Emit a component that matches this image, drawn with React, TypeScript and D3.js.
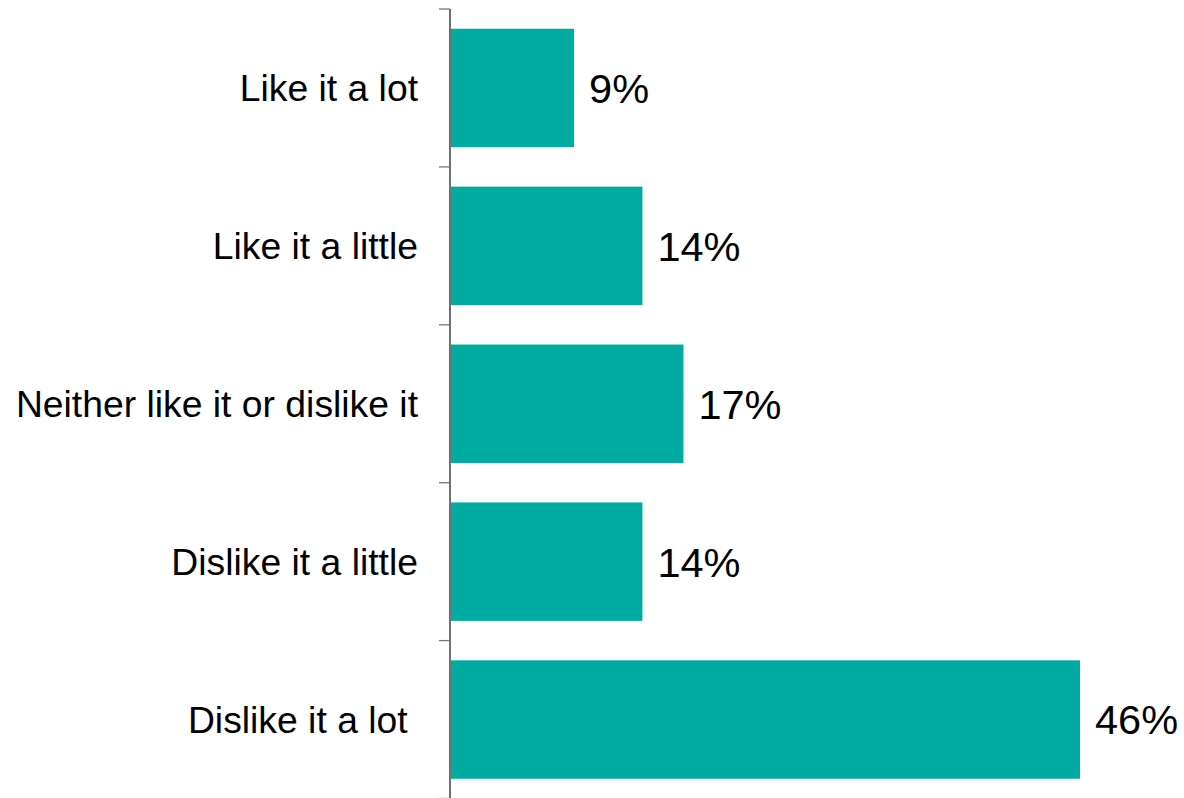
import React, { useEffect, useRef } from 'react';
import * as d3 from 'd3';

const categories = [
  'Like it a lot',
  'Like it a little',
  'Neither like it or dislike it',
  'Dislike it a little',
  'Dislike it a lot\u00a0',
];
const values = [9, 14, 17, 14, 46];
const valueLabels = ['9%', '14%', '17%', '14%', '46%'];

const BarChart = () => {
  const svgRef = useRef<SVGSVGElement>(null);

  useEffect(() => {
    const width = 1184;
    const height = 798;
    const axisX = 450;

    const svg = d3.select(svgRef.current).attr('width', width).attr('height', height);
    svg.selectAll('*').remove();

    const y = d3
      .scaleBand()
      .domain(categories)
      .range([9, 798.5])
      .paddingInner(0.25)
      .paddingOuter(0.125);

    const x = d3
      .scaleLinear()
      .domain([0, 46])
      .range([axisX + 1, 1080]);

    const data = categories.map((c, i) => ({ cat: c, value: values[i], label: valueLabels[i] }));

    // bars
    svg
      .selectAll('rect.bar')
      .data(data)
      .enter()
      .append('rect')
      .attr('class', 'bar')
      .attr('x', x(0))
      .attr('y', (d) => y(d.cat) as number)
      .attr('width', (d) => x(d.value) - x(0))
      .attr('height', y.bandwidth())
      .attr('fill', '#00ACA2');

    // axis line and boundary ticks
    const [y0, y1] = y.range();
    svg
      .append('line')
      .attr('x1', axisX)
      .attr('x2', axisX)
      .attr('y1', y0)
      .attr('y2', y1)
      .attr('stroke', '#222')
      .attr('stroke-width', 1.3);

    const bounds = categories.map((c) => (y(c) as number) - (y.step() * y.paddingInner()) / 2);
    bounds[0] = y0;
    bounds.push(y1);
    svg
      .selectAll('line.tick')
      .data(bounds)
      .enter()
      .append('line')
      .attr('class', 'tick')
      .attr('x1', axisX - 11)
      .attr('x2', axisX)
      .attr('y1', (d) => d)
      .attr('y2', (d) => d)
      .attr('stroke', '#777')
      .attr('stroke-width', 1.3);

    // category labels
    svg
      .selectAll('text.cat')
      .data(data)
      .enter()
      .append('text')
      .attr('class', 'cat')
      .attr('x', 418)
      .attr('y', (d) => (y(d.cat) as number) + y.bandwidth() / 2)
      .attr('dy', '0.36em')
      .attr('text-anchor', 'end')
      .attr('font-family', 'Liberation Sans, Arial, sans-serif')
      .attr('font-size', '37.3px')
      .attr('fill', '#000')
      .text((d) => d.cat);

    // value labels
    svg
      .selectAll('text.val')
      .data(data)
      .enter()
      .append('text')
      .attr('class', 'val')
      .attr('x', (d) => x(d.value) + 15)
      .attr('y', (d) => (y(d.cat) as number) + y.bandwidth() / 2)
      .attr('dy', '0.36em')
      .attr('font-family', 'Liberation Sans, Arial, sans-serif')
      .attr('font-size', '41.5px')
      .attr('fill', '#000')
      .text((d) => d.label);
  }, []);

  return (
    <div style={{ position: 'absolute', left: 0, top: 0 }}>
      <svg ref={svgRef} style={{ display: 'block' }}></svg>
    </div>
  );
};

export default function App() {
  return <BarChart />;
}
